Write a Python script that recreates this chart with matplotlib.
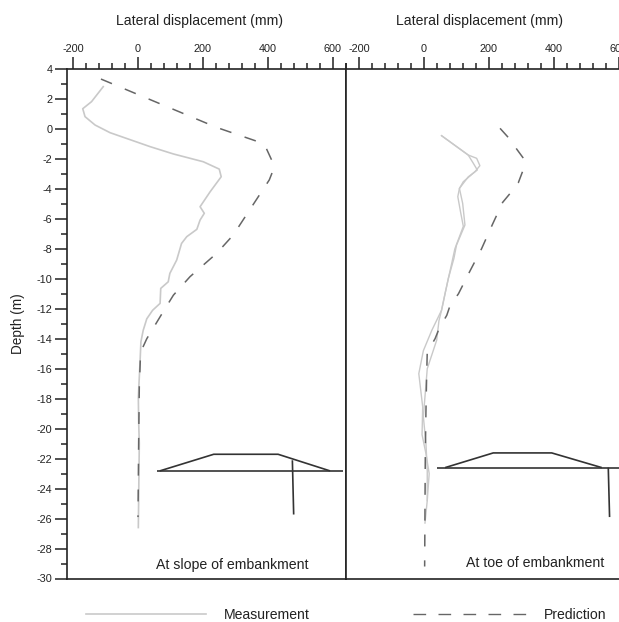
#!/usr/bin/env python3
"""Lateral displacement against depth, slope and toe of embankment."""

import matplotlib
matplotlib.use("Agg")
import matplotlib.pyplot as plt
from matplotlib.lines import Line2D
from matplotlib.ticker import MultipleLocator

plt.rcParams["font.family"] = ["Liberation Sans", "DejaVu Sans"]
plt.rcParams["axes.unicode_minus"] = False

W, H = 619, 622
MEAS_COLOR = "#c9c9c9"
PRED_COLOR = "#666666"
AXIS_COLOR = "#222222"
TEXT_COLOR = "#222222"
DASHES = (0, (7.8, 9.1))

# ── Data (mm, m) ───────────────────────────────────────────────────────────

slope_meas_x = [-107, -143, -170, -163, -132, -86, 37, 109, 201, 250, 256, 222, 191, 204,
                191, 181, 150, 134, 119, 98, 93, 70, 68, 45, 27, 16, 9, 6, 1, 2, 4, 1]
slope_meas_y = [2.82, 1.82, 1.35, 0.82, 0.26, -0.25, -1.18, -1.67, -2.19, -2.68, -3.19, -4.19,
                -5.19, -5.63, -6.08, -6.7, -7.19, -7.64, -8.75, -9.64, -10.2, -10.64, -11.64,
                -12.1, -12.67, -13.44, -14.2, -15.67, -17.9, -19.5, -21, -26.6]

slope_pred_x = [-114, 242, 360, 391, 416, 416, 404, 293, 242, 160, 109, 83, 27, 8, 4, 2, 0]
slope_pred_y = [3.33, 0.1, -0.78, -1.12, -2.3, -2.74, -3.4, -7.08, -8.3, -9.86, -11.09, -12,
                -14, -14.9, -17.2, -21, -25.9]

toe_meas_a_x = [54, 136, 162, 172, 157, 121, 109, 119, 126, 100, 92, 75, 65, 54, 24, -2, -16,
                -4, -6, 6, 16, 10, 3]
toe_meas_a_y = [-0.45, -1.74, -1.96, -2.45, -2.85, -3.52, -3.97, -4.97, -6.41, -7.75, -8.64,
                -9.97, -10.97, -12.1, -13.44, -14.8, -16.33, -18.55, -20.4, -21.67, -23,
                -24.8, -26.3]

toe_meas_b_x = [54, 136, 152, 164, 136, 109, 104, 113, 121, 95, 85, 75, 65, 54, 46, 39, 10, 4,
                -2, 6, 10, 10]
toe_meas_b_y = [-0.45, -1.74, -2.3, -2.74, -3.2, -3.97, -4.52, -5.6, -6.5, -8, -9, -9.97,
                -10.97, -12.1, -12.8, -14.1, -16, -17.6, -19.2, -21, -22.8, -24.8]

toe_pred_x = [234, 259, 285, 306, 304, 290, 265, 242, 210, 177, 141, 106, 80, 70, 47, 34, 10,
              8, 6, 4, 2]
toe_pred_y = [0.04, -0.56, -1.34, -1.96, -2.8, -3.6, -4.3, -4.9, -6.4, -8, -9.5, -11, -11.8,
              -12.44, -13.3, -14, -14.9, -16.6, -18.8, -21.7, -29.2]

# embankment sketches, in the same axis units
slope_ground_x, slope_ground_y = [57, 632], [-22.82, -22.82]
slope_bank_x = [67, 233, 431, 591]
slope_bank_y = [-22.82, -21.71, -21.71, -22.82]
slope_pile_x, slope_pile_y = [475, 479], [-22.11, -25.73]

toe_ground_x, toe_ground_y = [41, 640], [-22.6, -22.6]
toe_bank_x = [65, 213, 393, 547]
toe_bank_y = [-22.6, -21.62, -21.62, -22.6]
toe_pile_x, toe_pile_y = [567, 571], [-22.6, -25.9]

x_ticks = [-200, 0, 200, 400, 600]
y_ticks = list(range(-30, 5, 2))


def style_axes(ax, xlim):
    ax.set_xlim(*xlim)
    ax.set_ylim(-30, 4)
    ax.xaxis.tick_top()
    ax.set_xticks(x_ticks)
    ax.xaxis.set_minor_locator(MultipleLocator(40))
    ax.tick_params(axis="x", which="major", length=8.6, width=1.1, color=AXIS_COLOR,
                   labelsize=7.8, labelcolor=TEXT_COLOR, pad=2.5)
    ax.tick_params(axis="x", which="minor", length=4.3, width=1.1, color=AXIS_COLOR)
    for spine in ax.spines.values():
        spine.set_linewidth(1.2)
        spine.set_color(AXIS_COLOR)


def draw_sketch(ax, ground, bank, pile):
    for xs, ys in (ground, bank, pile):
        ax.plot(xs, ys, color="#333333", linewidth=1.2, solid_capstyle="butt")


def add_panel_axes(fig, left_px, xlim):
    ax = fig.add_axes([left_px / W, (H - 578.5) / H, 279.5 / W, 509.5 / H])
    style_axes(ax, xlim)
    return ax


def main():
    fig = plt.figure(figsize=(W / 100, H / 100), dpi=100, facecolor="white")

    # Slope panel
    ax1 = add_panel_axes(fig, 66.5, (-220, 640))
    ax1.set_yticks(y_ticks)
    ax1.yaxis.set_minor_locator(MultipleLocator(1))
    ax1.tick_params(axis="y", which="major", length=8.6, width=1.1, color=AXIS_COLOR,
                    labelsize=7.8, labelcolor=TEXT_COLOR, pad=1.5)
    ax1.tick_params(axis="y", which="minor", length=4.3, width=1.1, color=AXIS_COLOR)
    ax1.plot(slope_meas_x, slope_meas_y, color=MEAS_COLOR, linewidth=1.2)
    ax1.plot(slope_pred_x, slope_pred_y, color=PRED_COLOR, linewidth=1.1, linestyle=DASHES)
    draw_sketch(ax1, (slope_ground_x, slope_ground_y), (slope_bank_x, slope_bank_y),
                (slope_pile_x, slope_pile_y))
    ax1.text(290, -29.1, "At slope of embankment", fontsize=10.2, color=TEXT_COLOR,
             ha="center", va="center")

    # Toe panel runs off the right edge of the picture
    ax2 = add_panel_axes(fig, 346, (-240, 620))
    ax2.tick_params(axis="y", which="both", left=False, labelleft=False)
    ax2.plot(toe_meas_a_x, toe_meas_a_y, color=MEAS_COLOR, linewidth=1.0)
    ax2.plot(toe_meas_b_x, toe_meas_b_y, color=MEAS_COLOR, linewidth=1.0)
    ax2.plot(toe_pred_x, toe_pred_y, color=PRED_COLOR, linewidth=1.1, linestyle=DASHES)
    draw_sketch(ax2, (toe_ground_x, toe_ground_y), (toe_bank_x, toe_bank_y),
                (toe_pile_x, toe_pile_y))
    ax2.text(343, -28.95, "At toe of embankment", fontsize=10.2, color=TEXT_COLOR,
             ha="center", va="center")

    # Shared labels
    for cx in (200, 480):
        fig.text(cx / W, 1 - 21.5 / H, "Lateral displacement (mm)", fontsize=10.1,
                 color=TEXT_COLOR, ha="center", va="center")
    fig.text(18 / W, 1 - 323.5 / H, "Depth (m)", fontsize=9.8, color=TEXT_COLOR,
             rotation=90, ha="center", va="center")

    # Legend
    fig.add_artist(Line2D([85.7 / W, 205.7 / W], [1 - 614 / H] * 2, transform=fig.transFigure,
                          color=MEAS_COLOR, linewidth=1.2))
    fig.add_artist(Line2D([412.7 / W, 527.7 / W], [1 - 614 / H] * 2, transform=fig.transFigure,
                          color=PRED_COLOR, linewidth=1.0, linestyle=(0, (9.1, 8.9)),
                          dash_capstyle="butt"))
    fig.text(224 / W, 1 - 615 / H, "Measurement", fontsize=10.1, color=TEXT_COLOR, va="center")
    fig.text(544 / W, 1 - 615 / H, "Prediction", fontsize=10.1, color=TEXT_COLOR, va="center")

    fig.savefig("out.png", dpi=100)
    plt.close(fig)


if __name__ == "__main__":
    main()
